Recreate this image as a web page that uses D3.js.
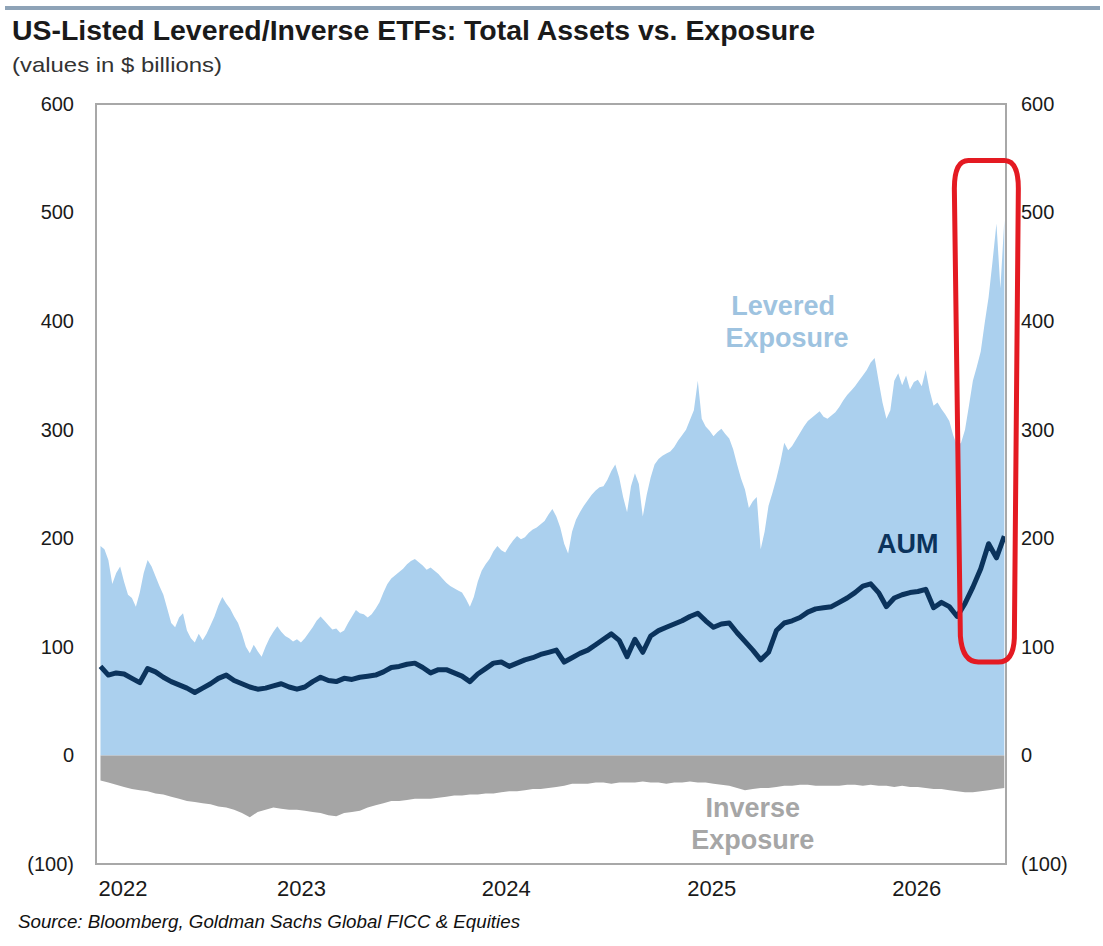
<!DOCTYPE html>
<html>
<head>
<meta charset="utf-8">
<script src="https://cdn.jsdelivr.net/npm/d3@7"></script>
<style>
  body { margin: 0; background: #fff; }
  svg text { font-family: "Liberation Sans", Arial, sans-serif; }
</style>
</head>
<body>
<div id="chart"></div>
<script>
// Weekly levered exposure ($bn), first week 2022-01-03
const leveredExposure = [
  193, 190, 180, 158, 168, 174, 160, 148, 145, 137,
  150, 168, 180, 174, 165, 156, 148, 135, 122, 118,
  127, 131, 115, 108, 104, 112, 106, 112, 120, 128,
  138, 146, 140, 135, 128, 122, 112, 100, 94, 102,
  96, 91, 100, 108, 114, 119, 114, 110, 108, 105,
  107, 104, 108, 113, 118, 124, 128, 124, 120, 116,
  117, 113, 115, 122, 128, 134, 131, 130, 127, 130,
  135, 141, 150, 158, 163, 166, 169, 172, 176, 179,
  181, 178, 175, 171, 173, 170, 167, 163, 159, 156,
  154, 152, 150, 144, 137, 146, 160, 170, 176, 181,
  188, 193, 189, 187, 193, 198, 202, 199, 201, 205,
  208, 210, 213, 216, 222, 227, 220, 210, 195, 186,
  206, 217, 224, 230, 235, 240, 244, 247, 248, 254,
  262, 268, 256, 238, 224, 248, 260, 250, 220, 240,
  256, 268, 273, 276, 278, 280, 284, 290, 295, 300,
  309, 318, 345, 310, 303, 299, 294, 298, 301, 296,
  292, 282, 268, 255, 245, 228, 234, 238, 190, 206,
  230, 242, 255, 270, 288, 281, 285, 291, 297, 303,
  308, 311, 314, 317, 312, 310, 313, 316, 321, 327,
  332, 336, 340, 345, 350, 355, 362, 366, 345, 325,
  310, 318, 345, 352, 341, 350, 337, 344, 346, 340,
  355, 336, 322, 325, 319, 314, 308, 295, 285, 288,
  300, 322, 345, 358, 372, 398, 422, 455, 490, 430,
  493, 478
];

// Bi-weekly AUM ($bn)
const aum = [
  82, 74, 76, 75, 71, 67, 80, 77, 72, 68,
  65, 62, 58, 62, 66, 71, 74, 69, 66, 63,
  61, 62, 64, 66, 63, 61, 63, 68, 72, 69,
  68, 71, 70, 72, 73, 74, 77, 81, 82, 84,
  85, 81, 76, 79, 79, 76, 73, 68, 75, 80,
  85, 86, 82, 85, 88, 90, 93, 95, 97, 86,
  90, 94, 97, 102, 107, 112, 106, 91, 107, 95,
  110, 115, 118, 121, 124, 128, 131, 124, 118, 121,
  122, 113, 105, 97, 88, 95, 115, 122, 124, 127,
  132, 135, 136, 137, 141, 145, 150, 156, 158, 150,
  137, 145, 148, 150, 151, 153, 136, 141, 137, 128,
  140, 155, 172, 195, 182, 202
];

// Bi-weekly inverse exposure ($bn, negative)
const inverseExposure = [
  -23, -25, -27, -29, -31, -32, -33, -35, -36, -38,
  -40, -42, -43, -44, -45, -47, -48, -50, -53, -57,
  -52, -50, -48, -49, -50, -50, -51, -52, -53, -55,
  -56, -53, -52, -51, -48, -46, -44, -42, -42, -41,
  -40, -40, -40, -39, -38, -37, -37, -36, -36, -35,
  -35, -34, -33, -33, -32, -31, -31, -30, -29, -28,
  -26, -26, -26, -25, -25, -26, -25, -25, -25, -24,
  -25, -25, -26, -25, -25, -24, -25, -25, -26, -27,
  -28, -30, -32, -31, -30, -30, -29, -28, -28, -27,
  -27, -28, -28, -28, -28, -27, -27, -28, -27, -28,
  -28, -29, -28, -29, -29, -30, -31, -31, -32, -33,
  -34, -34, -33, -32, -31, -30
];

const yTicks = [600, 500, 400, 300, 200, 100, 0, -100];
const xTicks = [2022, 2023, 2024, 2025, 2026];
const firstWeek = new Date(2022, 0, 3);
const weeks = d3.timeWeek.every(1).range(firstWeek, new Date(2026, 5, 9));
const fortnights = weeks.filter((d, i) => i % 2 === 0);

class ExposureChart {
  constructor(config) {
    this.config = config;
    this.configureVis();
  }

  configureVis() {
    const vis = this;
    const m = vis.config.margin;
    vis.width = vis.config.containerWidth - m.left - m.right;
    vis.height = vis.config.containerHeight - m.top - m.bottom;

    vis.svg = d3.select(vis.config.parentElement).append('svg')
      .attr('width', vis.config.containerWidth)
      .attr('height', vis.config.containerHeight);

    // header rule and titles
    vis.svg.append('rect')
      .attr('x', 5).attr('y', 6).attr('width', 1095).attr('height', 4)
      .attr('fill', '#8ea3b7');

    vis.svg.append('text')
      .attr('x', 12).attr('y', 40)
      .attr('font-size', 27).attr('font-weight', 'bold').attr('fill', '#1a1a1a')
      .attr('textLength', 803).attr('lengthAdjust', 'spacingAndGlyphs')
      .text('US-Listed Levered/Inverse ETFs: Total Assets vs. Exposure');

    vis.svg.append('text')
      .attr('x', 12).attr('y', 72)
      .attr('font-size', 21).attr('fill', '#333')
      .attr('textLength', 210).attr('lengthAdjust', 'spacingAndGlyphs')
      .text('(values in $ billions)');

    vis.svg.append('text')
      .attr('x', 18).attr('y', 928)
      .attr('font-size', 19).attr('font-style', 'italic').attr('fill', '#111')
      .attr('textLength', 502).attr('lengthAdjust', 'spacingAndGlyphs')
      .text('Source: Bloomberg, Goldman Sachs Global FICC & Equities');

    vis.chart = vis.svg.append('g')
      .attr('transform', `translate(${m.left},${m.top})`);

    vis.xScale = d3.scaleTime()
      .domain([new Date(2022, 0, 1), new Date(2026, 5, 10)])
      .range([0, vis.width]);

    vis.yScale = d3.scaleLinear()
      .domain([-100, 600])
      .range([vis.height, 0]);

    vis.renderVis();
  }

  renderVis() {
    const vis = this;
    const x = vis.xScale, y = vis.yScale;

    const area = d3.area()
      .x(d => x(d.date))
      .y0(y(0))
      .y1(d => y(d.value));

    const levered = weeks.map((d, i) => ({ date: d, value: leveredExposure[i] }))
      .filter(d => d.value !== undefined);
    const inverse = fortnights.map((d, i) => ({ date: d, value: inverseExposure[i] }))
      .filter(d => d.value !== undefined);
    const aumData = fortnights.map((d, i) => ({ date: d, value: aum[i] }))
      .filter(d => d.value !== undefined);

    vis.chart.append('path')
      .datum(levered)
      .attr('d', area)
      .attr('fill', '#abd0ee');

    vis.chart.append('path')
      .datum(inverse)
      .attr('d', area)
      .attr('fill', '#a5a5a5');

    vis.chart.append('path')
      .datum(aumData)
      .attr('d', d3.line().x(d => x(d.date)).y(d => y(d.value)))
      .attr('fill', 'none')
      .attr('stroke', '#0b335c')
      .attr('stroke-width', 5)
      .attr('stroke-linejoin', 'round');

    // frame
    vis.chart.append('rect')
      .attr('x', 0).attr('y', 0)
      .attr('width', vis.width).attr('height', vis.height)
      .attr('fill', 'none')
      .attr('stroke', '#a8a8a8')
      .attr('stroke-width', 2);

    // in-chart labels
    const label = (date, value, text, color, size) => vis.chart.append('text')
      .attr('x', x(date)).attr('y', y(value))
      .attr('text-anchor', 'middle')
      .attr('dominant-baseline', 'middle')
      .attr('font-size', size).attr('font-weight', 'bold')
      .attr('fill', color)
      .text(text);

    label(new Date(2025, 4, 9), 412, 'Levered', '#9ec3e0', 27);
    label(new Date(2025, 4, 16), 383, 'Exposure', '#9ec3e0', 27);
    label(new Date(2025, 11, 17), 193, 'AUM', '#0b335c', 27);
    label(new Date(2025, 2, 16), -50, 'Inverse', '#a6a6a6', 27);
    label(new Date(2025, 2, 16), -80, 'Exposure', '#a6a6a6', 27);

    // axes
    const fmt = v => v < 0 ? `(${-v})` : `${v}`;
    const yLeft = d3.axisLeft(y).tickValues(yTicks).tickSize(0).tickPadding(22).tickFormat(fmt);
    const yRight = d3.axisRight(y).tickValues(yTicks).tickSize(0).tickPadding(15).tickFormat(fmt);

    vis.chart.append('g').call(yLeft)
      .call(g => g.select('.domain').remove())
      .selectAll('text').attr('font-size', 20).attr('fill', '#1a1a1a')
      .attr('font-family', '"Liberation Sans", Arial, sans-serif');

    vis.chart.append('g').attr('transform', `translate(${vis.width},0)`).call(yRight)
      .call(g => g.select('.domain').remove())
      .selectAll('text').attr('font-size', 20).attr('fill', '#1a1a1a')
      .attr('font-family', '"Liberation Sans", Arial, sans-serif');

    const xAxis = d3.axisBottom(x)
      .tickValues(xTicks.map(yr => new Date(yr, 0, 1)))
      .tickSize(0).tickPadding(16)
      .tickFormat(d3.timeFormat('%Y'));

    vis.chart.append('g').attr('transform', `translate(0,${vis.height})`).call(xAxis)
      .call(g => g.select('.domain').remove())
      .selectAll('text').attr('font-size', 22).attr('fill', '#1a1a1a')
      .attr('font-family', '"Liberation Sans", Arial, sans-serif')
      .attr('text-anchor', (d, i) => i === 0 ? 'start' : 'middle')
      .attr('dx', (d, i) => i === 0 ? 2 : 0);

    // red highlight around the 2026 surge
    const x0 = x(new Date(2026, 2, 10)), x1 = x0 + 64;
    const y0 = y(548), y1 = y(86);
    const p = d3.path();
    p.moveTo(x0 + 14, y0);
    p.lineTo(x1 - 14, y0);
    p.quadraticCurveTo(x1, y0, x1, y0 + 28);
    p.lineTo(x1 - 4, y1 - 24);
    p.quadraticCurveTo(x1 - 5, y1, x1 - 20, y1);
    p.lineTo(x0 + 24, y1);
    p.quadraticCurveTo(x0 + 8, y1, x0 + 6, y1 - 26);
    p.lineTo(x0, y0 + 28);
    p.quadraticCurveTo(x0, y0, x0 + 14, y0);
    p.closePath();
    vis.chart.append('path')
      .attr('d', p.toString())
      .attr('fill', 'none')
      .attr('stroke', '#e41a22')
      .attr('stroke-width', 5);
  }
}

new ExposureChart({
  parentElement: '#chart',
  containerWidth: 1103,
  containerHeight: 946,
  margin: { top: 104, right: 97, bottom: 82, left: 96 }
});
</script>
</body>
</html>
